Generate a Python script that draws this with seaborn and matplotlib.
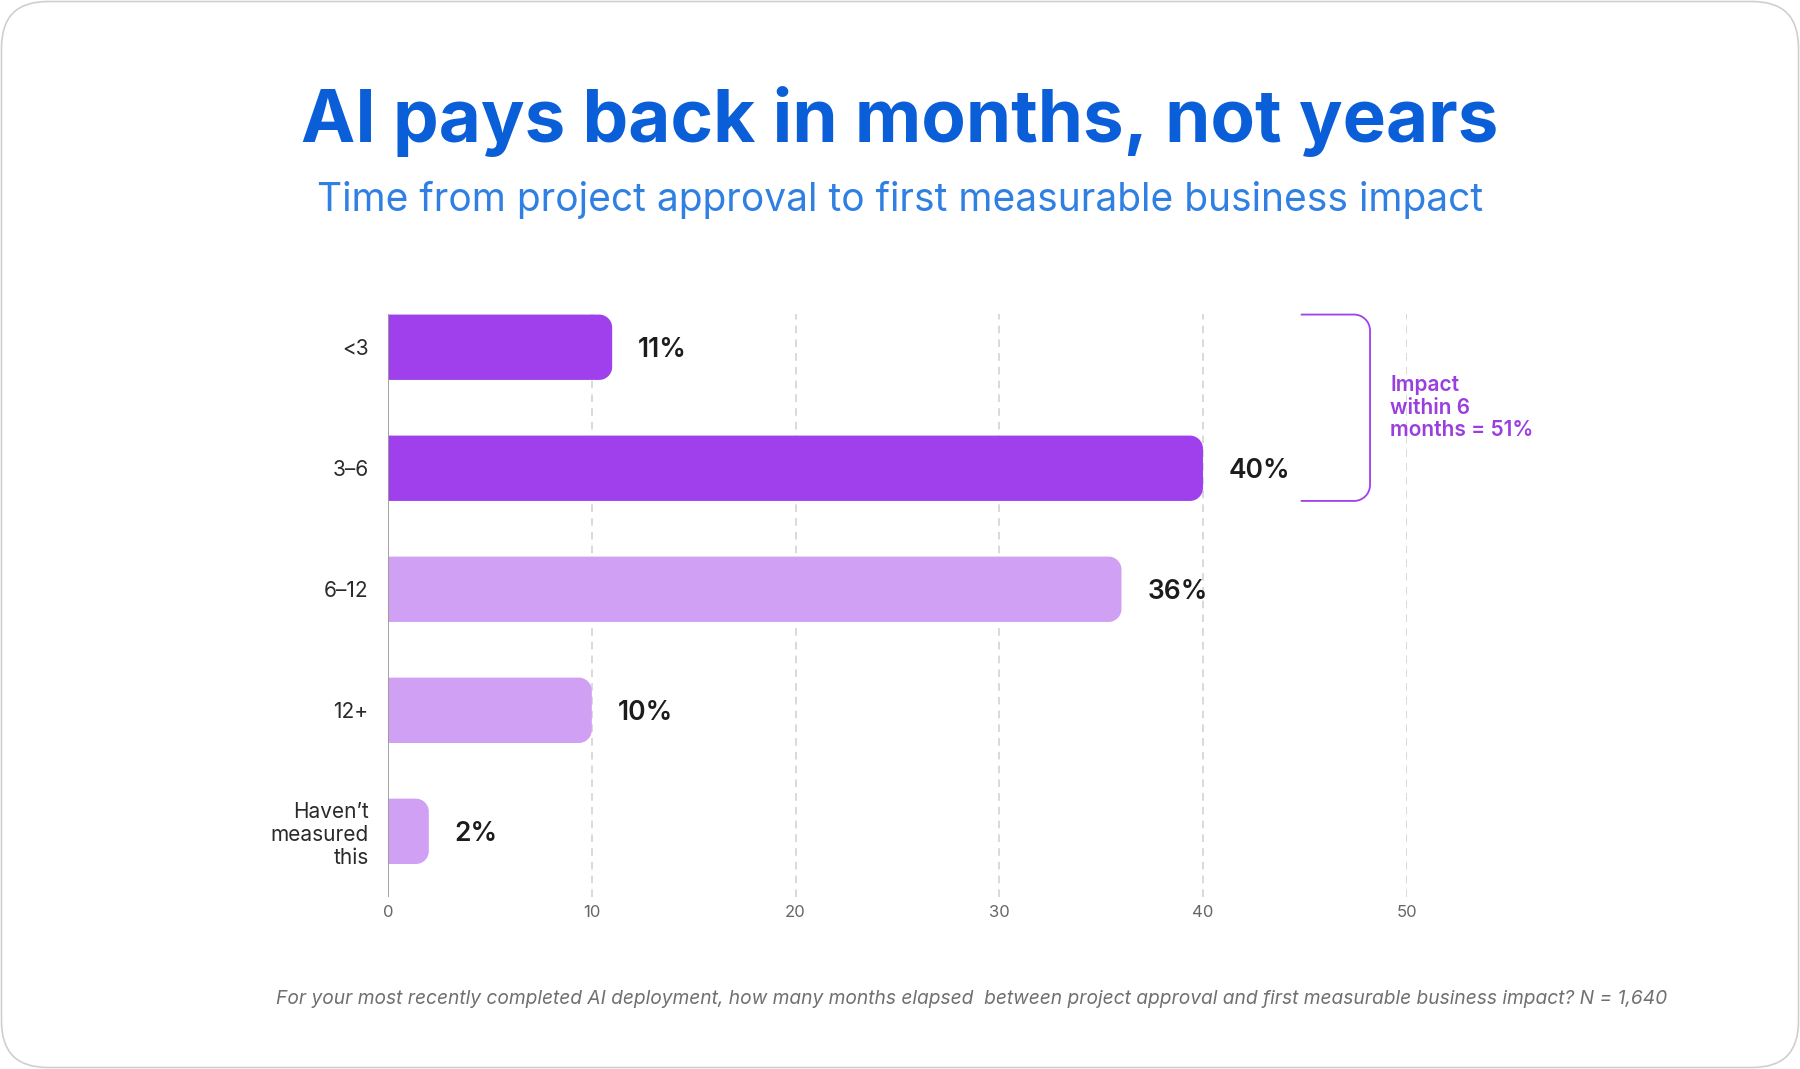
import matplotlib
matplotlib.use("Agg")
import matplotlib.pyplot as plt
import seaborn as sns
import pandas as pd
import numpy as np
from matplotlib.path import Path
from matplotlib.patches import PathPatch, FancyBboxPatch
from matplotlib.transforms import IdentityTransform

# ---- data ----
categories = ["<3", "3\u20136", "6\u201312", "12+", "Haven\u2019t\nmeasured\nthis"]
values = [11, 40, 36, 10, 2]
groups = ["early", "early", "late", "late", "late"]
value_labels = ["11%", "40%", "36%", "10%", "2%"]
x_ticks = [0, 10, 20, 30, 40, 50]

title = "AI pays back in months, not years"
subtitle = "Time from project approval to first measurable business impact"
note = ("For your most recently completed AI deployment, how many months elapsed  "
        "between project approval and first measurable business impact? N = 1,640")
bracket_text = "Impact\nwithin 6\nmonths = 51%"

DARK = "#A040ED"
LIGHT = "#CFA0F3"
palette = {"early": DARK, "late": LIGHT}

sns.set_theme(style="white")
plt.rcParams["font.family"] = ["Inter", "DejaVu Sans"]

df = pd.DataFrame({"cat": categories, "val": values, "grp": groups})

W, H, DPI = 18, 10.69, 100
fig = plt.figure(figsize=(W, H), dpi=DPI)
ax = fig.add_axes([0.2156, 0.1612, 0.5659, 0.5451])

sns.barplot(data=df, x="val", y="cat", hue="grp", palette=palette, dodge=False,
            width=0.54, legend=False, ax=ax, saturation=1)

ax.set_xlim(0, 50)
ax.set_ylim(4.54, -0.275)
fig.canvas.draw()

# pixel -> data scale
px_per_x = ax.transData.transform((1, 0))[0] - ax.transData.transform((0, 0))[0]
px_per_y = abs(ax.transData.transform((0, 1))[1] - ax.transData.transform((0, 0))[1])
R = 13  # corner radius px
rx, ry = R / px_per_x, R / px_per_y

def right_rounded(x0, y0, x1, y1, rx, ry):
    k = 0.5523
    verts = [(x0, y0), (x1 - rx, y0),
             (x1 - rx + k * rx, y0), (x1, y0 + ry - k * ry), (x1, y0 + ry),
             (x1, y1 - ry),
             (x1, y1 - ry + k * ry), (x1 - rx + k * rx, y1), (x1 - rx, y1),
             (x0, y1), (x0, y0)]
    codes = [Path.MOVETO, Path.LINETO,
             Path.CURVE4, Path.CURVE4, Path.CURVE4,
             Path.LINETO,
             Path.CURVE4, Path.CURVE4, Path.CURVE4,
             Path.LINETO, Path.CLOSEPOLY]
    return Path(verts, codes)

bars = list(ax.patches)
bar_info = []
for p in bars:
    x0, y0 = p.get_x(), p.get_y()
    w, h = p.get_width(), p.get_height()
    if w <= 0:
        continue
    fc = p.get_facecolor()
    p.set_visible(False)
    path = right_rounded(x0, y0, x0 + w, y0 + h, min(rx, w / 2), ry)
    ax.add_patch(PathPatch(path, facecolor=fc, edgecolor="none", zorder=3))
    bar_info.append((x0 + w, y0 + h / 2, y0, y0 + h))

bar_info.sort(key=lambda t: t[1])
for (xe, yc, _, _), lab in zip(bar_info, value_labels):
    ax.text(xe + 26 / px_per_x, yc, lab, ha="left", va="center_baseline",
            fontsize=19, fontweight="semibold", color="#1c1c1c", zorder=4)

# grid
for xv in x_ticks[1:]:
    ax.axvline(xv, color="#d0d0d0", lw=1.1, ls=(0, (5, 4)), zorder=1)
ax.axvline(0, color="#9a9a9a", lw=1.3, zorder=4)

ax.set_xticks(x_ticks)
ax.set_xticklabels([str(t) for t in x_ticks], fontsize=12, color="#666666")
ax.tick_params(axis="x", length=0, pad=6)
ax.tick_params(axis="y", length=0, pad=14)
for lbl in ax.get_yticklabels():
    lbl.set_fontsize(15)
    lbl.set_color("#2a2a2a")
    lbl.set_multialignment("right")
    lbl.set_linespacing(1.2)
ax.set_xlabel("")
ax.set_ylabel("")
for s in ax.spines.values():
    s.set_visible(False)

# bracket
top = bar_info[0][2]
bot = bar_info[1][3]
bx0, bx1 = 44.8, 48.2
Rb = 16
brx, bry = Rb / px_per_x, Rb / px_per_y
k = 0.5523
verts = [(bx0, top), (bx1 - brx, top),
         (bx1 - brx + k * brx, top), (bx1, top + bry - k * bry), (bx1, top + bry),
         (bx1, bot - bry),
         (bx1, bot - bry + k * bry), (bx1 - brx + k * brx, bot), (bx1 - brx, bot),
         (bx0, bot)]
codes = [Path.MOVETO, Path.LINETO, Path.CURVE4, Path.CURVE4, Path.CURVE4,
         Path.LINETO, Path.CURVE4, Path.CURVE4, Path.CURVE4, Path.LINETO]
ax.add_patch(PathPatch(Path(verts, codes), facecolor="none", edgecolor=DARK,
                       lw=1.3, clip_on=False, zorder=4))
ax.text(49.2, (top + bot) / 2, bracket_text, ha="left", va="center",
        fontsize=15, fontweight="semibold", color="#9A3EDF",
        linespacing=1.15, clip_on=False)

# titles
fig.text(0.5, 1 - 142 / 1069, title, ha="center", va="baseline",
         fontsize=52.4, fontweight="bold", color="#0A5FD8")
fig.text(0.5, 1 - 211 / 1069, subtitle, ha="center", va="baseline",
         fontsize=28, color="#2F80E2")
fig.text(1667 / 1800, 1 - 999 / 1069, note, ha="right", va="center",
         fontsize=13.8, style="italic", color="#707070")

# frame
fw, fh = W * DPI, H * DPI
frame = FancyBboxPatch((1.5, 1.5), fw - 3, fh - 3,
                       boxstyle="round,pad=0,rounding_size=46",
                       transform=IdentityTransform(), facecolor="none",
                       edgecolor="#cfcfcf", lw=1.2)
fig.patches.append(frame)

fig.savefig("out.png", dpi=DPI, facecolor="white")
